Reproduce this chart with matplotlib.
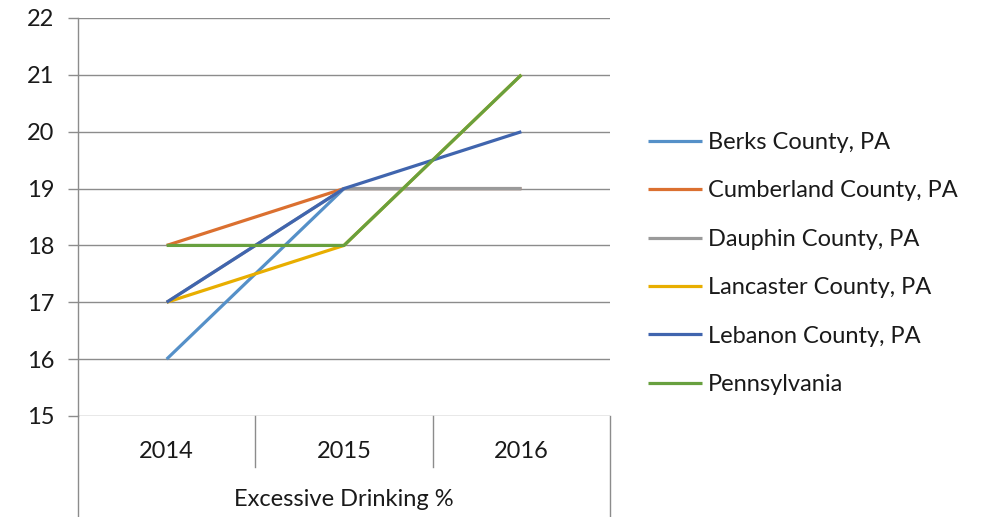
import matplotlib.pyplot as plt
from matplotlib.lines import Line2D
from matplotlib.transforms import blended_transform_factory

plt.rcParams["font.family"] = ["Lato", "DejaVu Sans"]

# -------------------------
# Data
# -------------------------
years = ["2014", "2015", "2016"]
berks = [16, 19, 19]
cumberland = [18, 19, 19]
dauphin = [17, 19, 19]
lancaster = [17, 18, 21]
lebanon = [17, 19, 20]
pennsylvania = [18, 18, 21]

series_names = ["Berks County, PA", "Cumberland County, PA", "Dauphin County, PA",
                "Lancaster County, PA", "Lebanon County, PA", "Pennsylvania"]
series_values = [berks, cumberland, dauphin, lancaster, lebanon, pennsylvania]
colors = ["#5590C8", "#DB7030", "#9A9A9A", "#E8AE00", "#4065AE", "#68A03F"]

grid_color = "#8C8C8C"
fs = 17

fig = plt.figure(figsize=(9.95, 5.17), dpi=100)
ax = fig.add_axes([78 / 995, 1 - 416 / 517, (610 - 78) / 995, (416 - 18) / 517])

x = list(range(len(years)))
for name, vals, col in zip(series_names, series_values, colors):
    ax.plot(x, vals, color=col, linewidth=2.3, label=name, solid_capstyle="butt")

ax.set_xlim(-0.5, 2.5)
ax.set_ylim(15, 22)
ax.set_yticks(range(15, 23))
ax.yaxis.grid(True, color=grid_color, linewidth=1)
ax.set_axisbelow(True)

for side in ["top", "right", "bottom"]:
    ax.spines[side].set_visible(False)
ax.spines["left"].set_color(grid_color)
ax.spines["left"].set_linewidth(1)

ax.tick_params(axis="y", length=7, width=1, color=grid_color, pad=10,
               labelsize=fs, labelcolor="#1a1a1a")
ax.set_xticks([])

# category axis: year labels and group label below
trans = blended_transform_factory(ax.transData, ax.transAxes)
for xi, yr in zip(x, years):
    ax.text(xi, -0.088, yr, transform=trans, ha="center", va="center",
            fontsize=fs, color="#1a1a1a")
ax.text(1, -0.211, "Excessive Drinking %", transform=trans, ha="center",
        va="center", fontsize=fs, color="#1a1a1a")

# separators of the category axis
for xb in [0.5, 1.5]:
    ax.add_line(Line2D([xb, xb], [0, -51 / 398], transform=trans, color=grid_color,
                       linewidth=1, clip_on=False))
for xb in [-0.5, 2.5]:
    ax.add_line(Line2D([xb, xb], [0, -101 / 398], transform=trans, color=grid_color,
                       linewidth=1, clip_on=False))

ax.legend(loc="upper left", bbox_to_anchor=(648 / 995, 1 - 132 / 517),
          bbox_transform=fig.transFigure, frameon=False, fontsize=fs,
          handlelength=2.3, handletextpad=0.25, labelspacing=1.16, borderpad=0,
          borderaxespad=0, labelcolor="#1a1a1a")

fig.savefig("out.png", dpi=100)
